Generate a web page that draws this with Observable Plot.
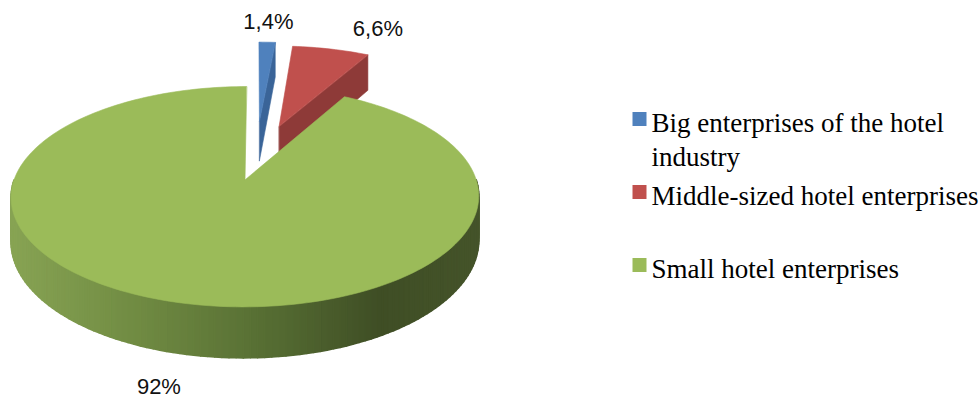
<!DOCTYPE html>
<html><head><meta charset="utf-8">
<script src="https://cdn.jsdelivr.net/npm/d3@7"></script>
<script src="https://cdn.jsdelivr.net/npm/@observablehq/plot@0.6"></script>
<style>html,body{margin:0;padding:0;background:#fff;overflow:hidden}</style>
</head><body><div id="chart"></div>
<script>
// ---- data ----
const categories = ["Big enterprises of the hotel industry", "Middle-sized hotel enterprises", "Small hotel enterprises"];
const shares = [1.4, 6.6, 92];
const valueLabels = ["1,4%", "6,6%", "92%"];

// ---- style / geometry ----
const W = 980, H = 403;
const cx = 255, cy = 161, rx = 225, ry = 102, persp = 0.15, depth = 42;
const explode = [0.42, 0.38, 0.18];
const colorsTop = ["#4f81bd", "#c0504d", "#9bbb59"];
const colorsCut = ["#3a6498", "#8e3a38", "#76923c"];
const sideRamp = d3.piecewise(d3.interpolateRgb, ["#88a454", "#718c43", "#587034", "#3f4e25", "#46552b"]);

const total = d3.sum(shares);
let acc = 0;
const slices = shares.map((v, i) => {
  const a0 = acc / total * 2 * Math.PI; acc += v;
  const a1 = acc / total * 2 * Math.PI;
  const mid = (a0 + a1) / 2;
  return {i, a0, a1, mid, ou: explode[i] * Math.sin(mid), ov: explode[i] * Math.cos(mid)};
});
function P(s, th, r, h) {
  const u = s.ou + r * Math.sin(th), v = s.ov + r * Math.cos(th);
  const k = 1 / (1 + persp * v);
  return {x: cx + rx * u * k, y: cy - ry * v * k + depth * h * k};
}

let pid = 0;
function addPoly(arr, pts, fill) { const id = pid++; pts.forEach(p => arr.push({id, x: p.x, y: p.y, fill})); }

// draw back slices first, then front
const order = slices.slice().sort((a, b) => {
  if (a.i === 1) return -1; if (b.i === 1) return 1; return b.ov - a.ov;
});
const layers = [];
for (const s of order) {
  const cut = [], side = [], top = [];
  if (Math.sin(s.a0) < -1e-6)
    addPoly(cut, [P(s, 0, 0, 0), P(s, s.a0, 1, 0), P(s, s.a0, 1, 1), P(s, 0, 0, 1)], colorsCut[s.i]);
  if (Math.sin(s.a1) > 1e-6)
    addPoly(cut, [P(s, 0, 0, 0), P(s, s.a1, 1, 0), P(s, s.a1, 1, 1), P(s, 0, 0, 1)], colorsCut[s.i]);
  const lo = Math.max(s.a0, Math.PI / 2), hi = Math.min(s.a1, 3 * Math.PI / 2);
  if (hi > lo) {
    const n = Math.max(2, Math.round((hi - lo) / Math.PI * 120));
    const xl = cx - rx * 1.1, xr = cx + rx * 1.1;
    for (let j = 0; j < n; j++) {
      const t0 = lo + (hi - lo) * j / n, t1 = lo + (hi - lo) * (j + 1) / n;
      const a = P(s, t0, 1, 0), b = P(s, t1, 1, 0), c = P(s, t1, 1, 1), d = P(s, t0, 1, 1);
      const xm = (a.x + b.x) / 2;
      const col = d3.rgb(sideRamp(Math.max(0, Math.min(1, (xm - xl) / (xr - xl))))).formatHex();
      addPoly(side, [a, b, c, d], col);
    }
  }
  const n = Math.max(4, Math.round((s.a1 - s.a0) / (2 * Math.PI) * 240));
  const pts = [P(s, 0, 0, 0)];
  for (let j = 0; j <= n; j++) pts.push(P(s, s.a0 + (s.a1 - s.a0) * j / n, 1, 0));
  addPoly(top, pts, colorsTop[s.i]);
  layers.push({cut, side, top});
}

// value labels, placed outside the slice at its mid angle
const labR = 1.2;
const labels = slices.map(s => {
  const front = Math.cos(s.mid) < 0;
  const p = P(s, s.mid, labR, front ? 1 : 0);
  const sn = Math.sin(s.mid);
  return {x: p.x, y: p.y, text: valueLabels[s.i],
    anchor: sn > 0.27 ? "start" : sn < -0.27 ? "end" : "middle",
    line: front ? "top" : "bottom"};
});

// legend
function wrap(str, max) {
  const words = str.split(" "), lines = [];
  let cur = "";
  for (const w of words) {
    if (cur && (cur + " " + w).length > max) { lines.push(cur); cur = w; }
    else cur = cur ? cur + " " + w : w;
  }
  lines.push(cur);
  return lines.join("\n");
}
const legX = 639, legY0 = 118.5, legStep = 73;
const legend = categories.map((c, i) => ({text: wrap(c, 30), color: colorsTop[i], y: legY0 + i * legStep}));

const labelMarks = [];
for (const anc of ["start", "middle", "end"]) for (const la of ["top", "bottom"]) {
  const sub = labels.filter(d => d.anchor === anc && d.line === la);
  if (sub.length) labelMarks.push(Plot.text(sub, {x: "x", y: "y", text: "text", textAnchor: anc, lineAnchor: la,
    dx: anc === "start" ? 13 : 0, dy: la === "top" ? -6 : 0,
    fontFamily: "Liberation Sans", fontSize: 22, fill: "#111"}));
}

const polyMark = (arr, sw) => Plot.line(arr, {x: "x", y: "y", z: "id", fill: "fill", stroke: "fill", strokeWidth: sw, curve: "linear-closed"});
const pieMarks = [];
for (const L of layers) {
  if (L.cut.length) pieMarks.push(polyMark(L.cut, 0.6));
  if (L.side.length) pieMarks.push(polyMark(L.side, 1.6));
  pieMarks.push(polyMark(L.top, 0.6));
}

const chart = Plot.plot({
  width: W, height: H, margin: 0,
  x: {domain: [0, W], range: [0, W], axis: null},
  y: {domain: [0, H], range: [0, H], axis: null},
  color: {type: "identity"},
  style: {background: "#fff", fontFamily: "Liberation Sans"},
  marks: [
    ...pieMarks,
    ...labelMarks,
    Plot.dot(legend, {x: () => legX, y: "y", symbol: "square", r: 7.9, fill: "color", stroke: null}),
    Plot.text(legend, {x: () => legX + 12, y: d => d.y - 10.7, text: "text", textAnchor: "start", lineAnchor: "top",
      fontFamily: "Liberation Serif", fontSize: 27, lineHeight: 1.26, fill: "#000"})
  ]
});
document.getElementById("chart").appendChild(chart);
</script>
</body></html>
